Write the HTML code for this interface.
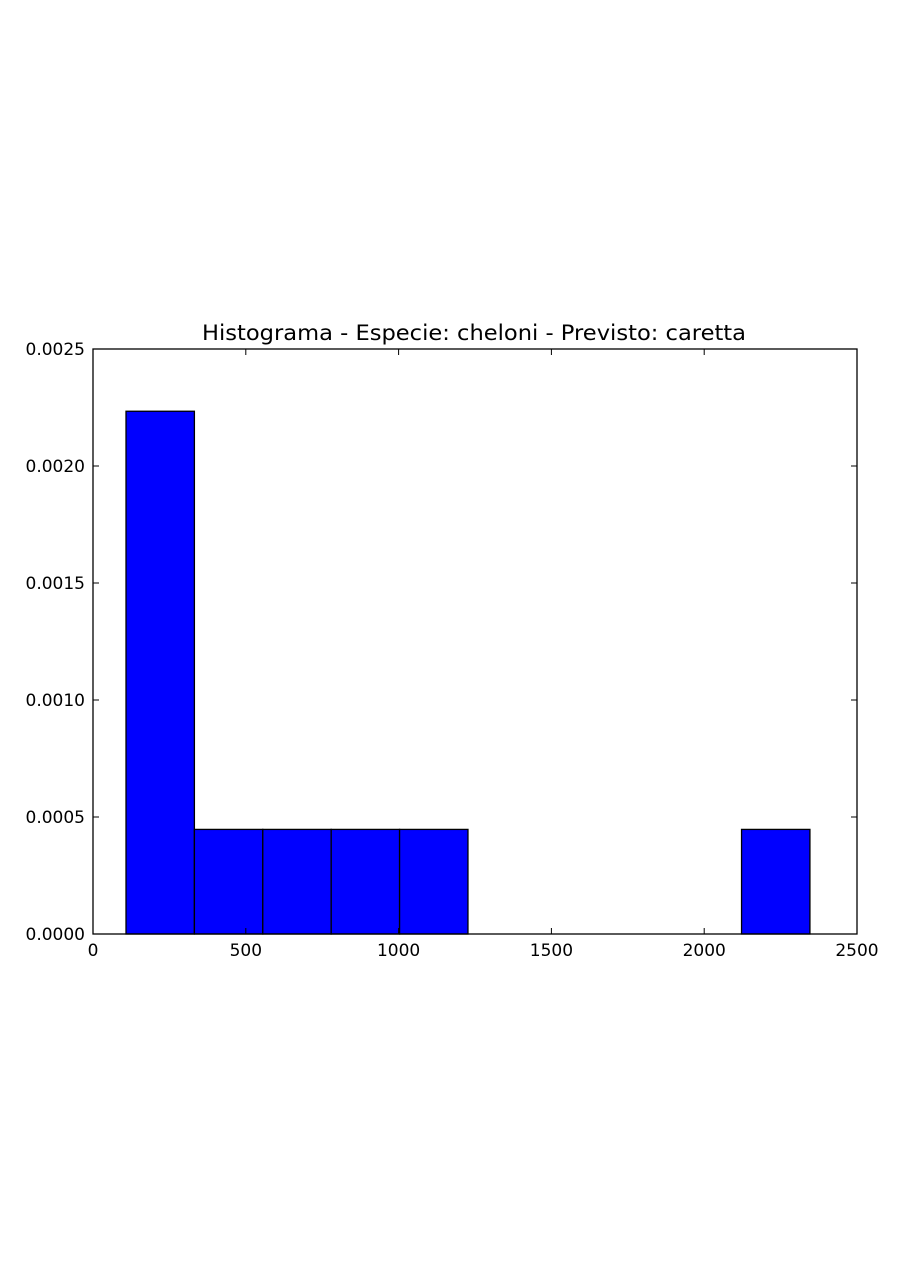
<!DOCTYPE html>
<html><head><meta charset="utf-8"><style>
html,body{margin:0;padding:0;background:#fff;}
svg text{font-family:"DejaVu Sans","Liberation Sans",sans-serif;fill:#000;}
</style></head><body>
<svg id="chart" width="900" height="1280" xmlns="http://www.w3.org/2000/svg">
<rect width="900" height="1280" fill="#fff"/>
<text x="474" y="340" font-size="21" text-anchor="middle" textLength="544" lengthAdjust="spacingAndGlyphs">Histograma - Especie: cheloni - Previsto: caretta</text>
<g id="bars"></g>
<g id="axes"></g>
</svg>
<script>
const binStart = 108;
const binWidth = 223.8;
const densities = [0.002234,0.000447,0.000447,0.000447,0.000447,0,0,0,0,0.000447];
const xTicks = [0,500,1000,1500,2000,2500];
const yTicks = [0.0000,0.0005,0.0010,0.0015,0.0020,0.0025];
const L=93,R=857,T=349,B=934;
const xs=v=>L+(v-0)/2500*(R-L);
const ys=v=>B-v/0.0025*(B-T);
const NS="http://www.w3.org/2000/svg";
const bars=document.getElementById('bars'), axes=document.getElementById('axes');
function mk(tag,attrs,parent){const e=document.createElementNS(NS,tag);for(const k in attrs)e.setAttribute(k,attrs[k]);parent.appendChild(e);return e;}
densities.forEach((d,i)=>{
  if(d<=0)return;
  const x0=xs(binStart+i*binWidth), x1=xs(binStart+(i+1)*binWidth);
  const r=mk('rect',{x:x0,y:ys(d),width:x1-x0,height:B-ys(d),fill:'#0000ff',stroke:'#000','stroke-width':1.3},bars);
  
  
});
const frame=mk('rect',{x:L,y:T,width:R-L,height:B-T,fill:'none',stroke:'#000','stroke-width':1.3},axes);


xTicks.forEach(v=>{
  const x=xs(v);
  mk('line',{x1:x,x2:x,y1:B,y2:B-6,stroke:'#000'},axes);
  mk('line',{x1:x,x2:x,y1:T,y2:T+6,stroke:'#000'},axes);
  const t=mk('text',{x:x,y:B+22,'font-size':17,'text-anchor':'middle'},axes);
  t.textContent=v;
  
  
});
yTicks.forEach(v=>{
  const y=ys(v);
  mk('line',{x1:L,x2:L+6,y1:y,y2:y,stroke:'#000'},axes);
  mk('line',{x1:R,x2:R-6,y1:y,y2:y,stroke:'#000'},axes);
  const t=mk('text',{x:L-8,y:y+6,'font-size':17,'text-anchor':'end'},axes);
  t.textContent=v.toFixed(4);
  
  
});
</script>
</body></html>
